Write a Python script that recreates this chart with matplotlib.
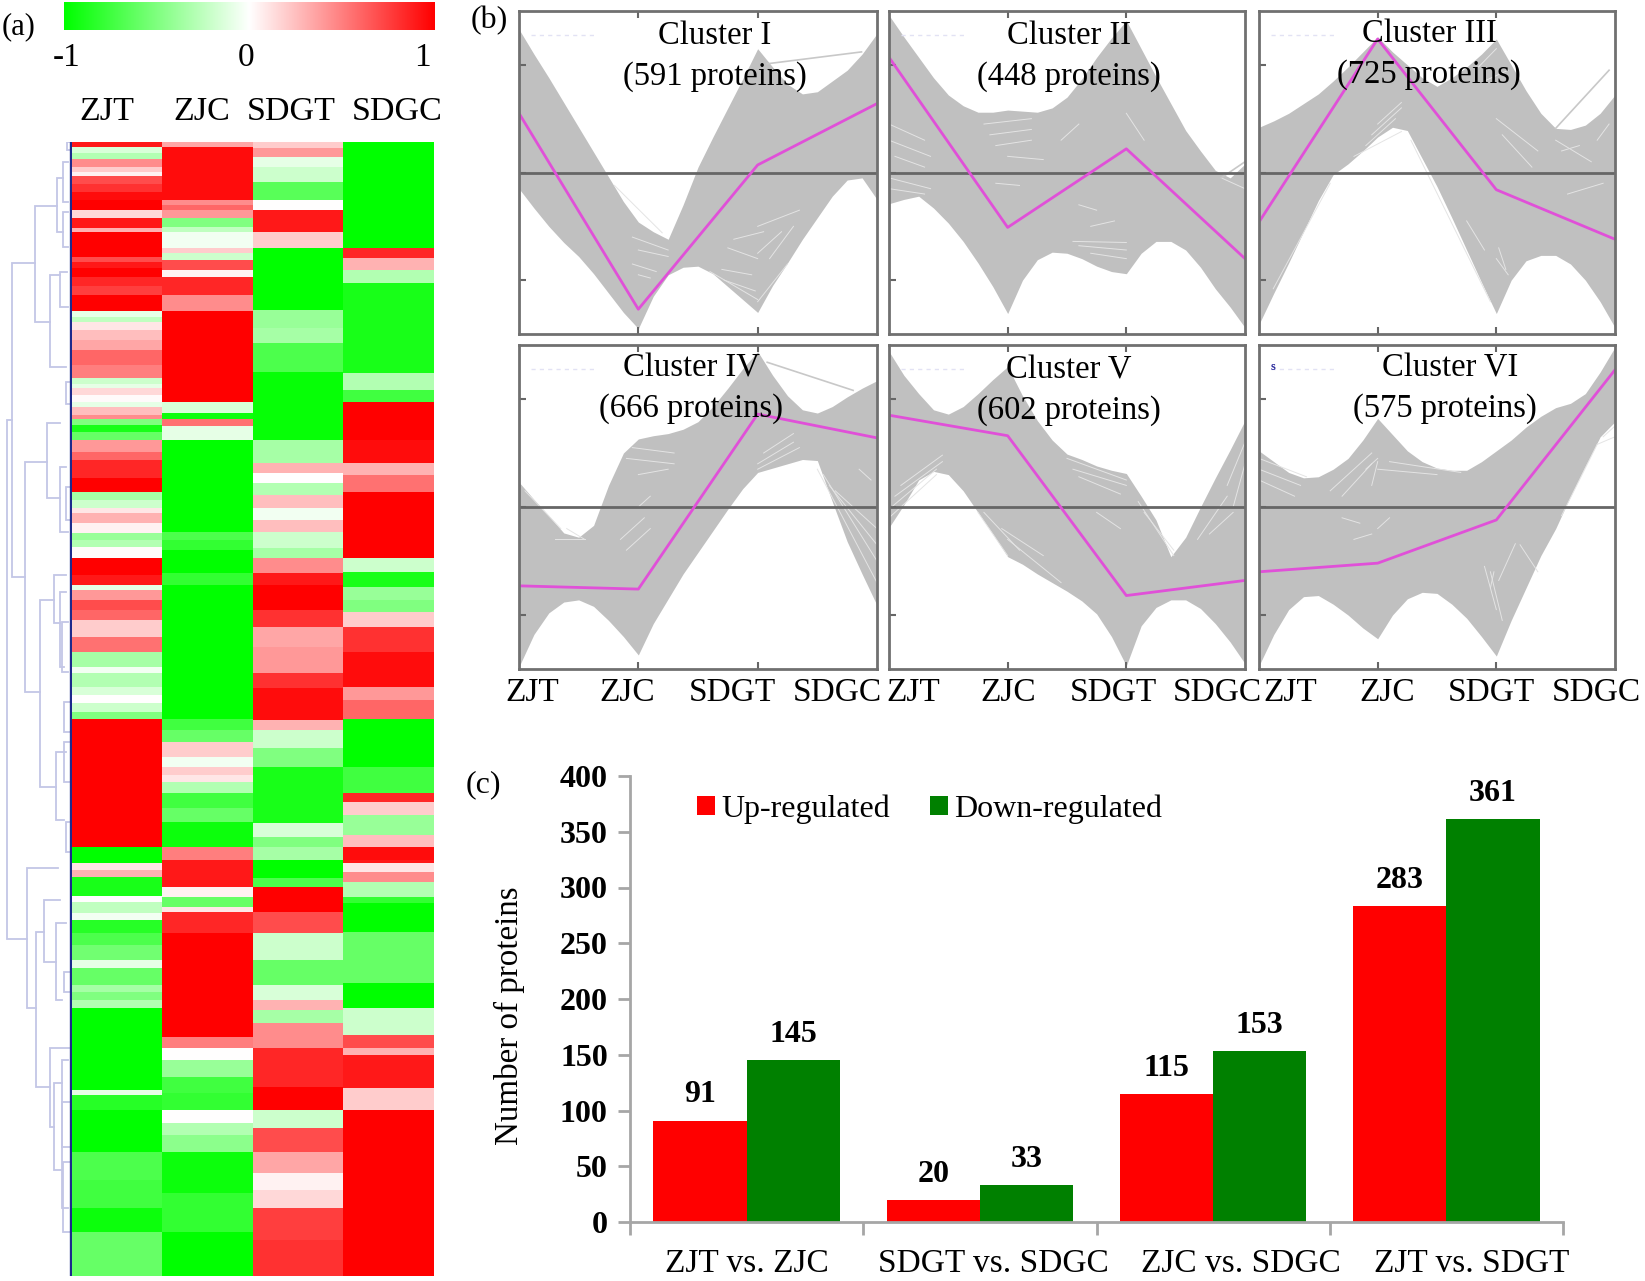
import numpy as np
import matplotlib
matplotlib.use("Agg")
import matplotlib.pyplot as plt
from matplotlib.colors import LinearSegmentedColormap

plt.rcParams['font.family'] = ['Liberation Serif', 'DejaVu Serif']

# panel (a): each column is runs of (last row, value), row numbers start at 142
heat_samples = ["ZJT", "ZJC", "SDGT", "SDGC"]
zjt_runs = [(147, .9), (153, -.15), (159, -.3), (167, .45), (172, .2), (176, .05), (184, .7), (192, .8), (200, .95),
            (210, 1), (218, .15), (228, .9), (232, .3), (257, 1), (262, .7), (268, .9), (277, 1), (286, .85), (295, .75),
            (311, 1), (317, -.1), (322, -.25), (330, .1), (340, .25), (350, .35), (365, .6), (378, .5), (384, -.2),
            (388, -.1), (395, .15), (402, .02), (407, -.1), (415, .25), (419, .45), (425, -.5), (432, -.9), (440, -.6),
            (452, .4), (460, .6), (478, .85), (492, 1), (500, -.35), (508, -.2), (513, .1), (523, .3), (533, .05),
            (540, -.4), (547, -.3), (558, .02), (575, 1), (585, .9), (590, -.1), (600, .4), (610, .7), (620, .6),
            (637, .2), (652, .55), (667, -.35), (673, -.05), (687, -.3), (695, -.15), (703, 0), (712, -.2), (719, -.5),
            (847, 1), (863, -1), (870, .1), (877, .3), (896, -.9), (902, 0), (913, -.25), (920, -.05), (933, -.85),
            (945, -.7), (960, -.55), (968, -.1), (985, -.6), (992, -.35), (1000, -.5), (1008, -.3), (1090, -1),
            (1095, -.1), (1110, -.85), (1152, -1), (1180, -.7), (1208, -.75), (1232, -.95), (1276, -.6)]
zjc_runs = [(147, .35), (200, .95), (205, .45), (210, .6), (218, .4), (227, -.5), (232, -.25), (248, -.05), (253, .2),
            (260, -.2), (270, .7), (277, .05), (295, .85), (311, .45), (402, 1), (413, -.15), (419, -.95), (426, .55),
            (440, -.1), (532, -1), (540, -.7), (550, -.8), (573, -1), (585, -.8), (719, -1), (730, -.75), (742, -.6),
            (757, .2), (767, -.05), (775, .2), (782, .1), (793, -.3), (808, -.75), (822, -.6), (847, -.95), (860, .5),
            (887, .9), (897, .05), (907, -.6), (912, .1), (933, .85), (1037, 1), (1048, .5), (1060, 0), (1077, -.4),
            (1093, -.75), (1110, -.8), (1123, 0), (1135, -.3), (1152, -.45), (1193, -.95), (1232, -.8), (1276, -1)]
sdgt_runs = [(148, .2), (157, .4), (167, -.1), (182, -.2), (200, -.65), (210, 0), (232, .9), (248, .2), (310, -1),
             (328, -.4), (343, -.35), (372, -.7), (440, -.97), (463, -.35), (473, .3), (483, 0), (495, -.3), (508, .25),
             (520, -.05), (532, .25), (548, -.2), (558, -.35), (573, .45), (585, .9), (610, 1), (627, .8), (647, .35),
             (673, .4), (688, .8), (720, .95), (730, .3), (748, -.2), (767, -.5), (823, -.9), (837, -.15), (847, -.5),
             (860, -.35), (878, -1), (887, -.7), (912, 1), (933, .7), (960, -.2), (985, -.6), (1000, -.15), (1010, .3),
             (1023, -.35), (1048, .45), (1087, .85), (1110, 1), (1128, -.2), (1152, .7), (1173, .35), (1190, .05),
             (1208, .15), (1240, .75), (1276, .8)]
sdgc_runs = [(248, -1), (258, .85), (270, .3), (283, -.3), (373, -.9), (390, -.3), (402, -.75), (440, 1), (463, .95),
             (475, .3), (492, .55), (558, 1), (572, -.2), (587, -.9), (600, -.4), (612, -.5), (627, .2), (652, .8),
             (687, .95), (700, .4), (719, .6), (767, -1), (793, -.75), (802, .85), (815, .2), (835, -.4), (847, .25),
             (860, .95), (863, .9), (872, .1), (882, .45), (897, -.3), (903, -.8), (932, -1), (983, -.6), (1008, -1),
             (1035, -.2), (1048, .7), (1055, .3), (1088, .9), (1110, .2), (1276, 1)]
heat_label_x = [107, 202, 291, 397]

# dendrogram joins: distance, first and last row of the join, distance of each child
dendro_joins = [
    (7, 278, 797, 12, 27), (12, 121, 435, 35, 25), (35, 64, 180, 57, 50), (57, 36, 90, 63, 63),
    (50, 133, 225, 60, 66), (25, 320, 550, 47, 40), (47, 281, 356, 60, 60), (60, 325, 390, 66, 68),
    (40, 458, 645, 54, 56), (54, 433, 481, 66, 60), (60, 450, 525, 66, 64), (56, 610, 678, 66, 64),
    (27, 726, 866, 58, 36), (36, 790, 945, 44, 50), (44, 758, 820, 60, 56), (56, 781, 858, 66, 62),
    (50, 906, 985, 69, 54), (54, 941, 1028, 62, 62), (62, 918, 1066, 68, 68), (63, 20, 60, 68, 68),
    (63, 70, 105, 68, 68), (60, 130, 165, 67, 68), (62, 480, 530, 68, 68), (64, 600, 640, 69, 69),
    (66, 680, 710, 69, 69), (64, 830, 850, 69, 69), (67, 0, 8, 70, 70), (66, 240, 262, 69, 69),
    (66, 345, 378, 70, 70), (64, 560, 590, 70, 70), (62, 960, 1005, 69, 69), (63, 1020, 1090, 70, 70),
]

# panel (b): outline of each cluster's bundle of profiles, one value per eighth of a sample step
sample_names = ["ZJT", "ZJC", "SDGT", "SDGC"]
band_steps = 25
cluster_titles = ["Cluster I", "Cluster II", "Cluster III", "Cluster IV", "Cluster V", "Cluster VI"]
cluster_sizes = ["(591 proteins)", "(448 proteins)", "(725 proteins)", "(666 proteins)", "(602 proteins)", "(575 proteins)"]
upper_1 = [1.33, 1.1, .88, .65, .42, .19, -.04, -.27, -.46, -.55, -.62, -.3, .05, .33, .6, .87, 1.15, .98, .82, .73, .75, .85, .95, 1.1, 1.29]
lower_1 = [-.15, -.33, -.5, -.65, -.78, -.94, -1.12, -1.3, -1.45, -1.15, -.95, -.88, -.87, -.94, -1.06, -1.18, -1.3, -1.05, -.84, -.62, -.42, -.22, -.07, -.05, -.25]
upper_2 = [1.46, 1.26, 1.07, .88, .72, .62, .56, .56, .58, .57, .56, .6, .7, .87, 1.07, 1.25, 1.41, 1.15, .89, .64, .39, .2, .02, -.05, .08]
lower_2 = [-.29, -.25, -.22, -.33, -.47, -.64, -.84, -1.06, -1.31, -1.0, -.81, -.74, -.75, -.8, -.87, -.92, -.94, -.75, -.64, -.64, -.72, -.88, -1.08, -1.25, -1.44]
upper_3 = [.42, .48, .55, .64, .73, .85, .98, 1.12, 1.26, 1.12, 1.0, .88, .8, .88, .98, 1.1, 1.24, 1.0, .76, .55, .41, .4, .44, .55, .72]
lower_3 = [-1.41, -1.12, -.84, -.55, -.26, -.02, .08, .2, .33, .42, .39, .13, -.13, -.42, -.72, -1.02, -1.31, -1.0, -.82, -.77, -.77, -.85, -1.0, -1.2, -1.44]
upper_4 = [.23, .07, -.08, -.24, -.28, -.17, .2, .5, .63, .66, .68, .72, .79, .93, 1.1, 1.28, 1.44, 1.22, 1.03, .9, .87, .93, 1.02, 1.1, 1.17]
lower_4 = [-1.48, -1.18, -.98, -.88, -.86, -.92, -1.05, -1.2, -1.37, -1.08, -.85, -.62, -.42, -.22, -.02, .17, .32, .36, .4, .44, .43, .05, -.32, -.62, -.91]
upper_5 = [1.44, 1.22, 1.05, .9, .86, .93, 1.05, 1.18, 1.3, 1.03, .8, .62, .49, .44, .38, .34, .31, .1, -.12, -.46, -.28, 0, .27, .53, .8]
lower_5 = [-.19, .02, .25, .33, .3, .15, -.05, -.25, -.46, -.53, -.62, -.7, -.78, -.87, -.99, -1.2, -1.47, -1.1, -.93, -.86, -.86, -.94, -1.08, -1.25, -1.45]
upper_6 = [.52, .42, .32, .27, .28, .35, .45, .62, .82, .67, .52, .42, .36, .34, .34, .42, .52, .62, .74, .84, .92, .96, 1.05, 1.25, 1.48]
lower_6 = [-1.47, -1.18, -.95, -.83, -.82, -.9, -1.0, -1.12, -1.22, -1.0, -.85, -.79, -.8, -.9, -1.03, -1.2, -1.38, -1.05, -.75, -.45, -.2, .1, .38, .65, .79]
centroid_1 = [.55, -1.27, .07, .64]
centroid_2 = [1.07, -.51, .22, -.8]
centroid_3 = [-.46, 1.24, -.16, -.62]
centroid_4 = [-.73, -.76, .86, .64]
centroid_5 = [.85, .66, -.82, -.68]
centroid_6 = [-.6, -.52, -.12, 1.27]
uppers = [upper_1, upper_2, upper_3, upper_4, upper_5, upper_6]
lowers = [lower_1, lower_2, lower_3, lower_4, lower_5, lower_6]
centroids = [centroid_1, centroid_2, centroid_3, centroid_4, centroid_5, centroid_6]

# profiles that leave the bundle: x0, y0, x1, y1
strays = [[(2.08, 1.01, 2.87, 1.12)], [(2.8, -.05, 3, .1)], [(2.5, .41, 2.95, .95)], [(2.08, 1.34, 2.8, 1.08)], [], []]
# gaps seen between the profiles inside the bundle
gaps_1 = [(.95, -.6, 1.25, -.72), (1.0, -.72, 1.25, -.78), (.95, -.85, 1.15, -.92), (1.0, -.95, 1.1, -.98), (1.7, -.9, 1.95, -.95),
          (1.75, -.7, 2.0, -.8), (2.0, -.5, 2.35, -.35), (1.8, -.62, 2.05, -.55), (2.0, -.75, 2.2, -.55), (2.1, -.8, 2.3, -.5),
          (.8, -.12, 1.2, -.56), (1.6, -.92, 2.0, -1.18), (2.0, -1.2, 2.25, -.85), (1.72, -1.0, 1.98, -1.1)]
gaps_2 = [(0, .45, .3, .3), (0, .3, .35, .15), (.05, .15, .3, .05), (0, -.05, .35, -.15), (0, -.15, .3, -.2), (.8, .45, 1.2, .5),
          (.85, .35, 1.2, .4), (.9, .25, 1.2, .3), (1.0, .15, 1.3, .12), (1.45, .3, 1.6, .45), (1.7, -.75, 2, -.8), (1.6, -.68, 2.0, -.72),
          (1.55, -.64, 2, -.65), (1.7, -.5, 1.9, -.45), (2, .55, 2.15, .3), (.9, -.1, 1.1, -.12), (1.6, -.3, 1.75, -.35), (2.8, -.05, 3, -.15)]
gaps_3 = [(.8, .15, 1.2, .38), (.9, .25, 1.15, .5), (.95, .35, 1.2, .6), (1.0, .45, 1.2, .65), (1.28, .3, 1.95, -1.2), (.12, -1.08, .6, -.1),
          (1.75, -.45, 1.9, -.72), (1.85, .98, 2.0, 1.15), (1.9, .85, 2.1, .95), (2.0, .5, 2.35, .2), (2.05, .35, 2.3, .05), (2.5, .3, 2.8, .1),
          (2.55, .2, 2.7, .25), (2.85, .3, 2.95, .45), (2, -.8, 2.1, -.95), (2.02, -.7, 2.08, -.9), (2.6, -.2, 2.9, -.1)]
gaps_4 = [(.05, .15, .35, -.2), (.3, -.3, .55, -.3), (.4, -.2, .55, -.3), (.95, .55, 1.3, .5), (.9, .45, 1.3, .4), (1.0, .3, 1.25, .35),
          (.85, -.3, 1.05, -.1), (.9, -.4, 1.1, -.2), (1.0, 0, 1.1, .1), (2, .4, 2.3, .6), (2.0, .35, 2.35, .55), (2.05, .5, 2.3, .68),
          (2.5, .35, 3, -.7), (2.55, .3, 3, -.5), (2.6, .2, 3, -.35), (2.65, .15, 3, -.2), (2.85, .35, 2.95, .25)]
gaps_5 = [(0, -.1, .4, .3), (0, -.02, .4, .35), (.05, .1, .45, .42), (.1, .2, .45, .48), (.75, -.05, 1.0, -.45), (.8, -.05, 1.1, -.4),
          (1.0, -.3, 1.45, -.7), (.95, -.2, 1.3, -.45), (1.5, .45, 2, .25), (1.55, .35, 2, .2), (1.6, .28, 1.95, .12), (2.1, .05, 2.4, -.45),
          (2.15, -.05, 2.4, -.4), (2.6, -.3, 2.85, .1), (2.7, -.25, 2.9, -.05), (2.85, .2, 3, .6), (2.9, 0, 3, .4), (1.75, -.05, 1.95, -.2)]
gaps_6 = [(0, .45, .4, .28), (0, .35, .35, .2), (0, .25, .3, .1), (.6, .15, .95, .5), (.7, .1, .95, .4), (.9, .35, 1.0, .45),
          (.95, .2, 1.0, .42), (1, .35, 1.5, .3), (1.1, .42, 1.7, .32), (1.9, -.55, 2.0, -.95), (1.95, -.6, 2.05, -1.05), (1.95, -.75, 1.98, -.6),
          (.8, -.3, .95, -.25), (.7, -.1, .85, -.15), (1, -.2, 1.1, -.1), (2.02, -.68, 2.16, -.34), (2.55, -.08, 2.85, .58), (2.85, .58, 3, .65),
          (2.9, .65, 3, .75), (2.2, -.35, 2.35, -.6)]
gaps = [gaps_1, gaps_2, gaps_3, gaps_4, gaps_5, gaps_6]

# panel (c)
comparisons = ["ZJT vs. ZJC", "SDGT vs. SDGC", "ZJC vs. SDGC", "ZJT vs. SDGT"]
up_counts = [91, 20, 115, 283]
down_counts = [145, 33, 153, 361]
label_shift = [0, .058, .117, .108]

W, H = 1645, 1281


def px_axes(left, top, right, bottom):
    return fig.add_axes([left / W, 1 - bottom / H, (right - left) / W, (bottom - top) / H])


def fig_text(x, y, s, size=24, **kw):
    fig.text(x / W, 1 - y / H, s, fontsize=size, ha='center', va='center', **kw)


fig = plt.figure(figsize=(W / 100, H / 100), dpi=100)
green_white_red = LinearSegmentedColormap.from_list("gwr", ["#00ff00", "#ffffff", "#ff0000"])

# colour bar
cbar = px_axes(64, 2, 435, 30)
cbar.imshow(np.linspace(-1, 1, 256)[None, :], cmap=green_white_red, aspect='auto', vmin=-1, vmax=1)
cbar.axis('off')
fig_text(67, 58, "-1")
fig_text(246, 58, "0")
fig_text(422, 58, "1")
fig_text(19, 27, "(a)", size=22)
fig_text(489, 21, "(b)", size=23)
fig_text(483, 785, "(c)", size=23)
for name, x in zip(heat_samples, heat_label_x):
    fig_text(x, 112, name, size=24.5)

# heatmap
first_row = 142
n_rows = 1134
matrix = np.zeros((n_rows, 4))
for j, runs in enumerate([zjt_runs, zjc_runs, sdgt_runs, sdgc_runs]):
    start = 0
    for end, value in runs:
        matrix[start:end - first_row, j] = value
        start = end - first_row
heat = px_axes(72, 142, 434, 1276)
heat.imshow(matrix, cmap=green_white_red, aspect='auto', vmin=-1, vmax=1, interpolation='nearest')
heat.axis('off')

# dendrogram
dend = px_axes(0, 142, 72, 1276)
dend.set_xlim(0, 72)
dend.set_ylim(n_rows, 0)
dend.axis('off')
for x, y0, y1, c0, c1 in dendro_joins:
    dend.plot([c0, x, x, c1], [y0, y0, y1, y1], color="#c3c6e6", lw=1.3, solid_joinstyle='miter')
dend.plot([71, 71], [0, n_rows], color="#1c2a8c", lw=2.4)

# cluster panels
panel_lefts = [(519, 877), (889, 1245), (1259, 1615)]
panel_rows = [(11, 334), (345, 669)]
title_pos = [(715, 36), (1069, 36), (1429, 34), (691, 368), (1069, 370), (1450, 368)]
size_pos = [(715, 77), (1069, 77), (1429, 75), (691, 409), (1069, 411), (1445, 409)]
band_x = np.linspace(0, 3, band_steps)
panel_no = 0
for (top, bottom) in panel_rows:
    for (left, right) in panel_lefts:
        ax = px_axes(left, top, right, bottom)
        ax.set_xlim(0, 3)
        ax.set_ylim(-1.5, 1.5)
        ax.fill_between(band_x, lowers[panel_no], uppers[panel_no], color="#c0c0c0", lw=0)
        for x0, y0, x1, y1 in gaps[panel_no]:
            ax.plot([x0, x1], [y0, y1], color="#e4e4e4", lw=0.7)
        for x0, y0, x1, y1 in strays[panel_no]:
            ax.plot([x0, x1], [y0, y1], color="#c8c8c8", lw=1.2)
        ax.plot([.1, .63], [1.28, 1.28], color="#e2e2f4", lw=1, ls=(0, (3, 3)))
        ax.axhline(0, color="#666666", lw=2)
        ax.plot(range(4), centroids[panel_no], color="#e050d8", lw=2)
        ax.set_xticks([1, 2])
        ax.set_yticks([-1, 0, 1])
        ax.tick_params(length=5, width=1.5, color="#666666", direction='in', top=True,
                       labelbottom=False, labelleft=False)
        for sp in ax.spines.values():
            sp.set_color("#707070")
            sp.set_linewidth(2)
        if panel_no == 5:
            ax.text(.12, 1.3, "s", color="#2a2a9c", fontsize=9, fontweight='bold', ha='center', va='center')
        fig_text(title_pos[panel_no][0], title_pos[panel_no][1], cluster_titles[panel_no], size=23.5, zorder=5)
        fig_text(size_pos[panel_no][0], size_pos[panel_no][1], cluster_sizes[panel_no], size=23.5, zorder=5)
        panel_no += 1
for xs in ([532, 627, 732, 837], [913, 1008, 1113, 1217], [1290, 1387, 1491, 1596]):
    for name, x in zip(sample_names, xs):
        fig_text(x, 693, name)

# bar chart
bars = px_axes(630, 776, 1563, 1222)
pos = np.arange(len(comparisons)) + 0.5
width = 0.4
up = bars.bar(pos - width / 2, up_counts, width, color="#ff0000", label="Up-regulated")
down = bars.bar(pos + width / 2, down_counts, width, color="#008000", label="Down-regulated")
for group in (up, down):
    for b in group:
        bars.annotate(str(int(b.get_height())), (b.get_x() + b.get_width() / 2, b.get_height()),
                      xytext=(0, 8), textcoords='offset points', ha='center', va='bottom',
                      fontsize=23, fontweight='bold')
bars.set_xlim(0, 4)
bars.set_ylim(0, 400)
bars.set_yticks(range(0, 401, 50))
bars.set_yticklabels([str(v) for v in range(0, 401, 50)], fontsize=23, fontweight='bold')
bars.set_xticks(range(5))
bars.set_xticklabels([])
bars.set_xticks(pos + np.array(label_shift), minor=True)
bars.set_xticklabels(comparisons, minor=True, fontsize=24)
bars.tick_params(axis='x', which='major', length=9, width=2, color="#a6a6a6")
bars.tick_params(axis='x', which='minor', length=0, pad=19)
bars.tick_params(axis='y', length=9, width=2, color="#a6a6a6", pad=7)
bars.spines['top'].set_visible(False)
bars.spines['right'].set_visible(False)
for side in ('left', 'bottom'):
    bars.spines[side].set_color("#a6a6a6")
    bars.spines[side].set_linewidth(2)
fig_text(509, 1016, "Number of proteins", size=23.8, rotation=90)
bars.legend(loc='center left', bbox_to_anchor=(697 / W, 1 - 809 / H), bbox_transform=fig.transFigure,
            ncol=2, frameon=False, fontsize=23, handlelength=0.55, handleheight=0.55, handletextpad=0.2,
            columnspacing=1.26, borderpad=0, borderaxespad=0)

fig.savefig("out.png", dpi=100)
